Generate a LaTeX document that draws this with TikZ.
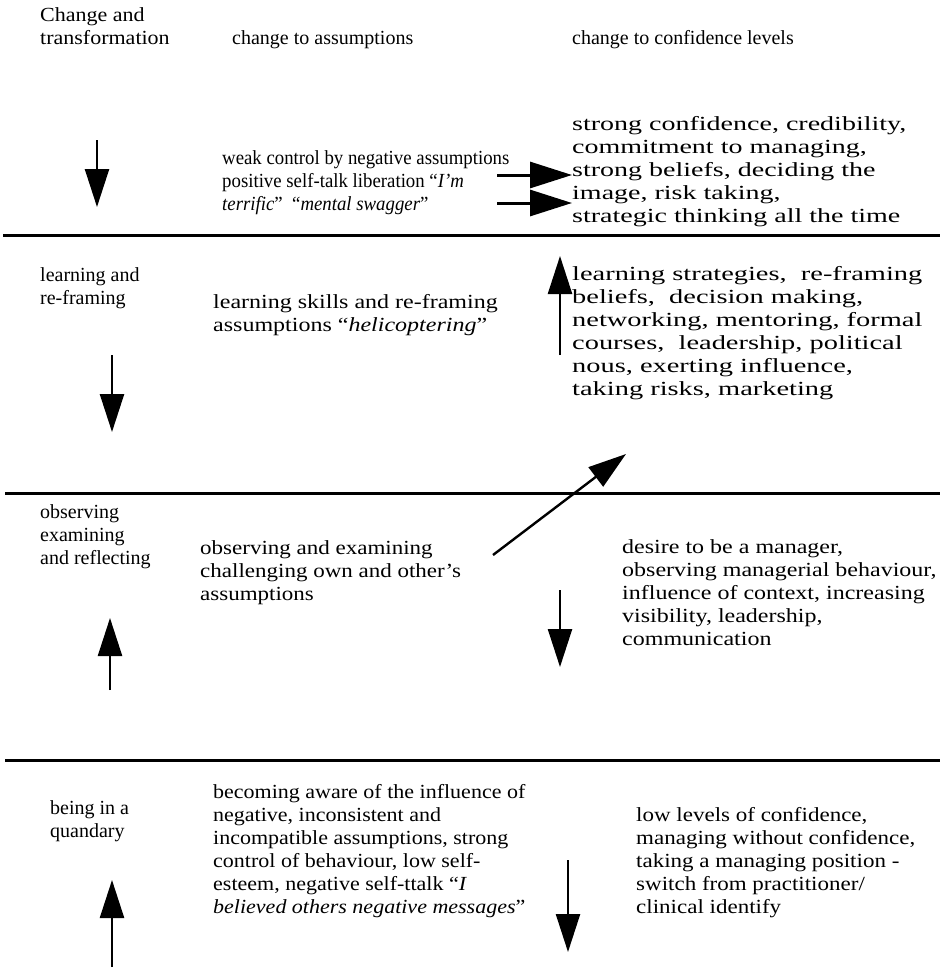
\documentclass[tikz,border=0pt]{standalone}
\usepackage{fontspec}
\setmainfont{Liberation Serif}
% the same serif face at several set widths
\newfontfamily\serifA[FakeStretch=0.94]{Liberation Serif}
\newfontfamily\serifB[FakeStretch=1.1]{Liberation Serif}
\newfontfamily\serifC[FakeStretch=1.15]{Liberation Serif}
\newfontfamily\serifD[FakeStretch=1.2]{Liberation Serif}
\newfontfamily\serifE[FakeStretch=1.4]{Liberation Serif}
\newfontfamily\serifF[FakeStretch=1.42]{Liberation Serif}
\usetikzlibrary{arrows.meta}
\begin{document}
\begin{tikzpicture}[x=1pt,y=-1pt,
  txt/.style={anchor=north west,inner sep=0pt,align=left,
    font=\fontsize{20}{23}\selectfont},
  wA/.style={txt,font=\serifA\fontsize{20}{23}\selectfont},
  wB/.style={txt,font=\serifB\fontsize{20}{23}\selectfont},
  wC/.style={txt,font=\serifC\fontsize{20}{23}\selectfont},
  wD/.style={txt,font=\serifD\fontsize{20}{23}\selectfont},
  wE/.style={txt,font=\serifE\fontsize{20}{23}\selectfont},
  wF/.style={txt,font=\serifF\fontsize{20}{23}\selectfont},
  flow/.style={line width=2.4pt,-{Triangle[length=38pt,width=24pt]}},
  sideflow/.style={line width=3pt,-{Triangle[length=42pt,width=26pt]}},
  rule/.style={line width=3pt}]
\useasboundingbox (0,0) rectangle (945,969);

% stage separators
\draw[rule] (3,235) -- (940,235);
\draw[rule] (5,493) -- (940,493);
\draw[rule] (5,760) -- (940,760);

% stage 1: change and transformation
\node[wB] (s1) at (40,5) {\strut Change and\\transformation};
\node[txt] (h1) at (232,28) {\strut change to assumptions};
\node[txt] (h2) at (572,28) {\strut change to confidence levels};
\node[wE] (c1) at (572,114) {\strut strong confidence, credibility,\\commitment to managing,\\strong beliefs, deciding the\\image, risk taking,\\strategic thinking all the time};
\node[wA] (m1) at (222,148) {\strut weak control by negative assumptions\\positive self-talk liberation “\textit{I’m}\\\textit{terrific}”\ \ “\textit{mental swagger}”};

% stage 2: learning and re-framing
\node[txt] (s2) at (40,265) {\strut learning and\\re-framing};
\node[wD] (m2) at (213,292) {\strut learning skills and re-framing\\assumptions “\textit{helicoptering}”};
\node[wF] (c2) at (572,264) {\strut learning strategies,\ \ re-framing\\beliefs,\ \ decision making,\\networking, mentoring, formal\\courses,\ \ leadership, political\\nous, exerting influence,\\taking risks, marketing};

% stage 3: observing, examining and reflecting
\node[txt] (s3) at (40,502) {\strut observing\\examining\\and reflecting};
\node[wC] (m3) at (200,538) {\strut observing and examining\\challenging own and other’s\\assumptions};
\node[wD] (c3) at (622,537) {\strut desire to be a manager,\\observing managerial behaviour,\\influence of context, increasing\\visibility, leadership,\\communication};

% stage 4: being in a quandary
\node[txt] (s4) at (50,798) {\strut being in a\\quandary};
\node[wB] (m4) at (213,782) {\strut becoming aware of the influence of\\negative, inconsistent and\\incompatible assumptions, strong\\control of behaviour, low self-\\esteem, negative self-ttalk “\textit{I}\\\textit{believed others negative messages}”};
\node[wC] (c4) at (636,805) {\strut low levels of confidence,\\managing without confidence,\\taking a managing position -\\switch from practitioner/\\clinical identify};

% arrow end points
\coordinate (a1s) at (97,140);  \coordinate (a1e) at (97,207);
\coordinate (a2s) at (497,175); \coordinate (a2e) at (572,175);
\coordinate (a3s) at (497,203); \coordinate (a3e) at (572,203);
\coordinate (a4s) at (560,355); \coordinate (a4e) at (560,256);
\coordinate (a5s) at (112,355); \coordinate (a5e) at (112,432);
\coordinate (a6s) at (493,555); \coordinate (a6e) at (626,454);
\coordinate (a7s) at (110,690); \coordinate (a7e) at (110,618);
\coordinate (a8s) at (560,590); \coordinate (a8e) at (560,667);
\coordinate (a9s) at (112,967); \coordinate (a9e) at (112,880);
\coordinate (a10s) at (568,860); \coordinate (a10e) at (568,952);

\draw[flow] (a1s) -- (a1e);
\draw[sideflow] (a2s) -- (a2e);
\draw[sideflow] (a3s) -- (a3e);
\draw[flow] (a4s) -- (a4e);
\draw[flow] (a5s) -- (a5e);
\draw[flow] (a6s) -- (a6e);
\draw[flow] (a7s) -- (a7e);
\draw[flow] (a8s) -- (a8e);
\draw[flow] (a9s) -- (a9e);
\draw[flow] (a10s) -- (a10e);
\end{tikzpicture}
\end{document}
